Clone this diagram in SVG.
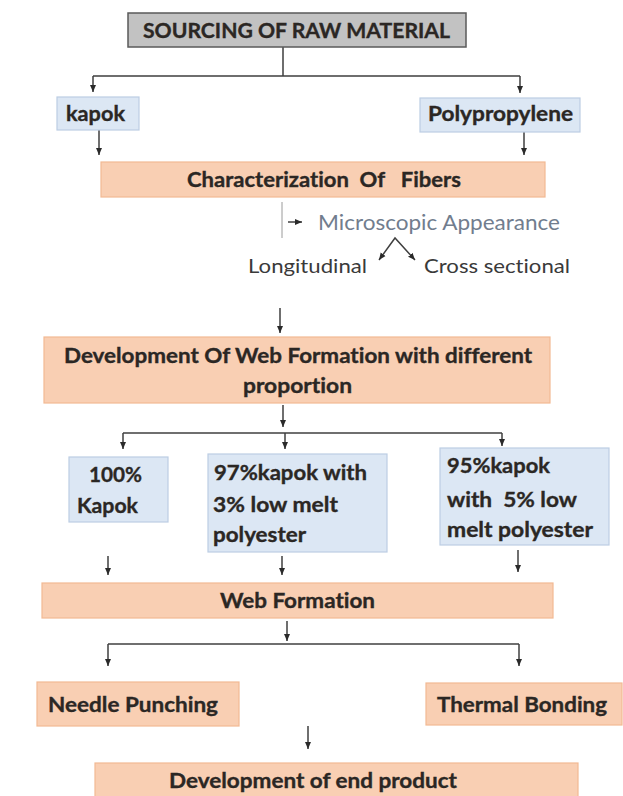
<svg xmlns="http://www.w3.org/2000/svg" width="623" height="796" viewBox="0 0 623 796">
<style>
.t{font-family:Lato,"Open Sans","Liberation Sans",sans-serif;font-weight:bold;font-size:21px;fill:#2b2724;stroke:#2b2724;stroke-width:0.35;font-variant-ligatures:none}
.r{font-family:Lato,"Open Sans","Liberation Sans",sans-serif;font-size:20px;fill:#3a3a3a;font-variant-ligatures:none}
.gray{fill:#c2c2c2;stroke:#5a5a5a;stroke-width:1.5}
.blue{fill:#dce7f4;stroke:#bccde3;stroke-width:1.2}
.peach{fill:#f9cfb3;stroke:#f2b993;stroke-width:1.2}
.c{fill:none;stroke:#3f3f3f;stroke-width:1.5}
</style>
<defs>
<marker id="a" markerUnits="userSpaceOnUse" markerWidth="8" markerHeight="8" viewBox="0 0 8 8" refX="7" refY="4" orient="auto">
<path d="M0,1 L7,4 L0,7 Z" fill="#2a2a2a"/>
</marker>
<marker id="s" markerUnits="userSpaceOnUse" markerWidth="8" markerHeight="8" viewBox="0 0 8 8" refX="1" refY="4" orient="auto">
<path d="M8,1 L1,4 L8,7 Z" fill="#2a2a2a"/>
</marker>
</defs>
<rect width="623" height="796" fill="#ffffff"/>

<g id="connectors">
<path class="c" d="M283,47 V76 M93,76 H520"/>
<path class="c" d="M93,76 V92" marker-end="url(#a)"/>
<path class="c" d="M520,76 V93" marker-end="url(#a)"/>
<path class="c" d="M99,130 V155" marker-end="url(#a)"/>
<path class="c" d="M524,132 V155" marker-end="url(#a)"/>
<path d="M282,202 V238" fill="none" stroke="#9a9a9a" stroke-width="1"/>
<path class="c" d="M288,222 H302" marker-end="url(#a)"/>
<path class="c" d="M379,260 L395,238 L415,260" marker-start="url(#s)" marker-end="url(#a)"/>
<path class="c" d="M280,308 V333" marker-end="url(#a)"/>
<path class="c" d="M283,405 V427" marker-end="url(#a)"/>
<path class="c" d="M123,433 H502"/>
<path class="c" d="M123,433 V449" marker-end="url(#a)"/>
<path class="c" d="M285,433 V449" marker-end="url(#a)"/>
<path class="c" d="M502,433 V446" marker-end="url(#a)"/>
<path class="c" d="M108,556 V575" marker-end="url(#a)"/>
<path class="c" d="M282,556 V575" marker-end="url(#a)"/>
<path class="c" d="M518,550 V572" marker-end="url(#a)"/>
<path class="c" d="M287,621 V641" marker-end="url(#a)"/>
<path class="c" d="M108,644 H519"/>
<path class="c" d="M108,644 V666" marker-end="url(#a)"/>
<path class="c" d="M519,644 V666" marker-end="url(#a)"/>
<path class="c" d="M308,726 V749" marker-end="url(#a)"/>
</g>

<g id="sourcing">
<rect class="gray" x="128" y="13" width="338" height="34"/>
<text class="t" x="143" y="38" textLength="307" lengthAdjust="spacingAndGlyphs">SOURCING OF RAW MATERIAL</text>
</g>
<g id="kapok">
<rect class="blue" x="57" y="97" width="82" height="33"/>
<text class="t" x="66" y="121" textLength="59" lengthAdjust="spacingAndGlyphs">kapok</text>
</g>
<g id="polypropylene">
<rect class="blue" x="420" y="98" width="160" height="34"/>
<text class="t" x="428" y="121" textLength="145" lengthAdjust="spacingAndGlyphs">Polypropylene</text>
</g>
<g id="characterization">
<rect class="peach" x="101" y="162" width="444" height="35"/>
<text class="t" x="187" y="187" textLength="274" lengthAdjust="spacingAndGlyphs" xml:space="preserve">Characterization  Of   Fibers</text>
</g>
<g id="microscopic">
<text class="r" x="318" y="230" textLength="242" lengthAdjust="spacingAndGlyphs" style="fill:#717d8e;font-size:21px">Microscopic Appearance</text>
</g>
<g id="longitudinal">
<text class="r" x="248" y="273" textLength="119" lengthAdjust="spacingAndGlyphs">Longitudinal</text>
</g>
<g id="cross">
<text class="r" x="424" y="273" textLength="146" lengthAdjust="spacingAndGlyphs">Cross sectional</text>
</g>
<g id="development-web">
<rect class="peach" x="44" y="337" width="506" height="66"/>
<text class="t" x="64" y="363" textLength="468" lengthAdjust="spacingAndGlyphs">Development Of Web Formation with different</text>
<text class="t" x="243" y="393" textLength="109" lengthAdjust="spacingAndGlyphs">proportion</text>
</g>
<g id="kapok100">
<rect class="blue" x="69" y="457" width="99" height="65"/>
<text class="t" x="89" y="482" textLength="53" lengthAdjust="spacingAndGlyphs">100%</text>
<text class="t" x="77" y="513" textLength="61" lengthAdjust="spacingAndGlyphs">Kapok</text>
</g>
<g id="kapok97">
<rect class="blue" x="208" y="454" width="179" height="98"/>
<text class="t" x="214" y="480" textLength="153" lengthAdjust="spacingAndGlyphs">97%kapok with</text>
<text class="t" x="213" y="512" textLength="125" lengthAdjust="spacingAndGlyphs">3% low melt</text>
<text class="t" x="213" y="542" textLength="93" lengthAdjust="spacingAndGlyphs">polyester</text>
</g>
<g id="kapok95">
<rect class="blue" x="440" y="448" width="169" height="97"/>
<text class="t" x="447" y="473" textLength="103" lengthAdjust="spacingAndGlyphs">95%kapok</text>
<text class="t" x="447" y="507" textLength="130" lengthAdjust="spacingAndGlyphs" xml:space="preserve">with  5% low</text>
<text class="t" x="447" y="537" textLength="146" lengthAdjust="spacingAndGlyphs">melt polyester</text>
</g>
<g id="web-formation">
<rect class="peach" x="42" y="583" width="511" height="35"/>
<text class="t" x="220" y="608" textLength="155" lengthAdjust="spacingAndGlyphs">Web Formation</text>
</g>
<g id="needle">
<rect class="peach" x="37" y="682" width="202" height="44"/>
<text class="t" x="48" y="712" textLength="170" lengthAdjust="spacingAndGlyphs">Needle Punching</text>
</g>
<g id="thermal">
<rect class="peach" x="426" y="683" width="196" height="42"/>
<text class="t" x="437" y="712" textLength="170" lengthAdjust="spacingAndGlyphs">Thermal Bonding</text>
</g>
<g id="end-product">
<rect class="peach" x="95" y="763" width="483" height="40"/>
<text class="t" x="169" y="788" textLength="288" lengthAdjust="spacingAndGlyphs">Development of end product</text>
</g>
</svg>
